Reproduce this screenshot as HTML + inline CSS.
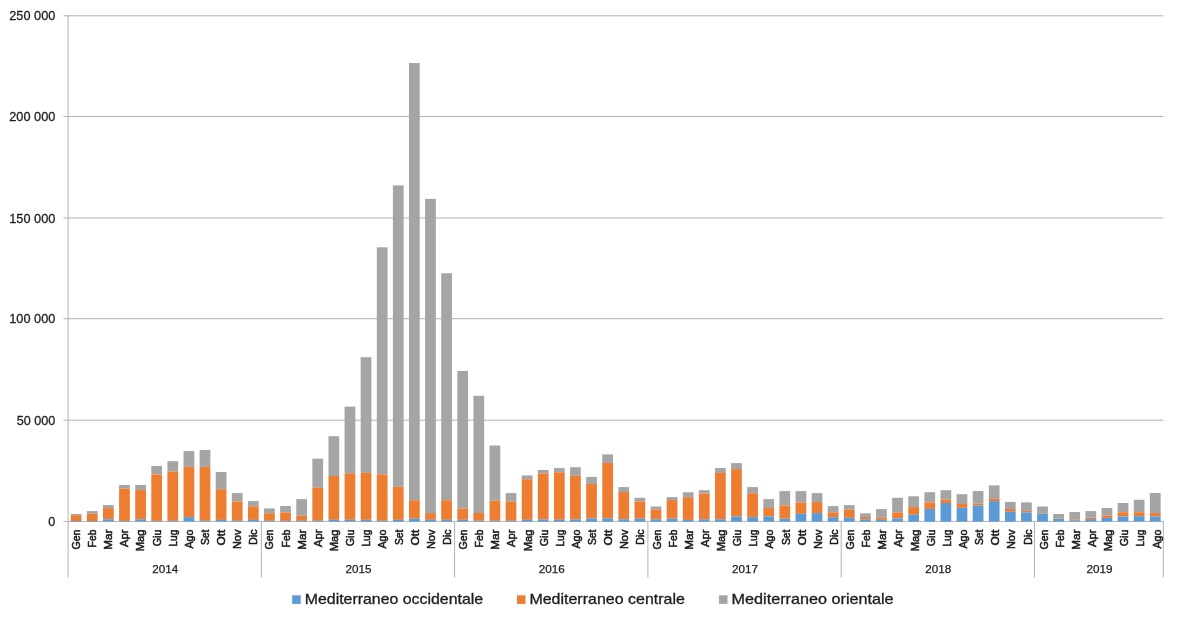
<!DOCTYPE html>
<html lang="it"><head><meta charset="utf-8"><title>Mediterraneo</title>
<style>html,body{margin:0;padding:0;background:#fff}svg{display:block}text{font-family:"Liberation Sans",sans-serif;fill:#1c1c1c;stroke:#1c1c1c}</style></head><body>
<svg width="1179" height="622" viewBox="0 0 1179 622">
<rect width="1179" height="622" fill="#fff"/>
<g stroke="#B2B2B2" stroke-width="1" fill="none">
<line x1="63.5" y1="15.8" x2="1163.3" y2="15.8"/>
<line x1="63.5" y1="116.5" x2="1163.3" y2="116.5"/>
<line x1="63.5" y1="218.0" x2="1163.3" y2="218.0"/>
<line x1="63.5" y1="318.7" x2="1163.3" y2="318.7"/>
<line x1="63.5" y1="420.2" x2="1163.3" y2="420.2"/>
<line x1="63.5" y1="521.4" x2="1163.3" y2="521.4"/>
</g>
<g shape-rendering="auto">
<rect x="70.78" y="514.00" width="10.74" height="1.30" fill="#A5A5A5"/>
<rect x="70.78" y="515.30" width="10.74" height="5.70" fill="#ED7D31"/>
<rect x="70.78" y="521.00" width="10.74" height="0.60" fill="#5B9BD5"/>
<rect x="86.89" y="511.10" width="10.74" height="2.60" fill="#A5A5A5"/>
<rect x="86.89" y="513.70" width="10.74" height="7.30" fill="#ED7D31"/>
<rect x="86.89" y="521.00" width="10.74" height="0.60" fill="#5B9BD5"/>
<rect x="103.00" y="505.10" width="10.74" height="3.00" fill="#A5A5A5"/>
<rect x="103.00" y="508.10" width="10.74" height="11.20" fill="#ED7D31"/>
<rect x="103.00" y="519.30" width="10.74" height="2.30" fill="#5B9BD5"/>
<rect x="119.10" y="484.90" width="10.74" height="3.70" fill="#A5A5A5"/>
<rect x="119.10" y="488.60" width="10.74" height="32.30" fill="#ED7D31"/>
<rect x="119.10" y="520.90" width="10.74" height="0.70" fill="#5B9BD5"/>
<rect x="135.21" y="484.90" width="10.74" height="5.20" fill="#A5A5A5"/>
<rect x="135.21" y="490.10" width="10.74" height="29.20" fill="#ED7D31"/>
<rect x="135.21" y="519.30" width="10.74" height="2.30" fill="#5B9BD5"/>
<rect x="151.31" y="466.00" width="10.74" height="8.50" fill="#A5A5A5"/>
<rect x="151.31" y="474.50" width="10.74" height="46.40" fill="#ED7D31"/>
<rect x="151.31" y="520.90" width="10.74" height="0.70" fill="#5B9BD5"/>
<rect x="167.42" y="461.20" width="10.74" height="10.40" fill="#A5A5A5"/>
<rect x="167.42" y="471.60" width="10.74" height="49.30" fill="#ED7D31"/>
<rect x="167.42" y="520.90" width="10.74" height="0.70" fill="#5B9BD5"/>
<rect x="183.53" y="451.10" width="10.74" height="15.80" fill="#A5A5A5"/>
<rect x="183.53" y="466.90" width="10.74" height="50.30" fill="#ED7D31"/>
<rect x="183.53" y="517.20" width="10.74" height="4.40" fill="#5B9BD5"/>
<rect x="199.63" y="449.90" width="10.74" height="17.00" fill="#A5A5A5"/>
<rect x="199.63" y="466.90" width="10.74" height="53.90" fill="#ED7D31"/>
<rect x="199.63" y="520.80" width="10.74" height="0.80" fill="#5B9BD5"/>
<rect x="215.74" y="472.00" width="10.74" height="17.20" fill="#A5A5A5"/>
<rect x="215.74" y="489.20" width="10.74" height="30.70" fill="#ED7D31"/>
<rect x="215.74" y="519.90" width="10.74" height="1.70" fill="#5B9BD5"/>
<rect x="231.84" y="493.10" width="10.74" height="8.40" fill="#A5A5A5"/>
<rect x="231.84" y="501.50" width="10.74" height="19.30" fill="#ED7D31"/>
<rect x="231.84" y="520.80" width="10.74" height="0.80" fill="#5B9BD5"/>
<rect x="247.95" y="501.10" width="10.74" height="5.30" fill="#A5A5A5"/>
<rect x="247.95" y="506.40" width="10.74" height="13.50" fill="#ED7D31"/>
<rect x="247.95" y="519.90" width="10.74" height="1.70" fill="#5B9BD5"/>
<rect x="264.05" y="508.40" width="10.74" height="4.90" fill="#A5A5A5"/>
<rect x="264.05" y="513.30" width="10.74" height="7.50" fill="#ED7D31"/>
<rect x="264.05" y="520.80" width="10.74" height="0.80" fill="#5B9BD5"/>
<rect x="280.16" y="506.00" width="10.74" height="6.40" fill="#A5A5A5"/>
<rect x="280.16" y="512.40" width="10.74" height="8.50" fill="#ED7D31"/>
<rect x="280.16" y="520.90" width="10.74" height="0.70" fill="#5B9BD5"/>
<rect x="296.27" y="499.10" width="10.74" height="16.60" fill="#A5A5A5"/>
<rect x="296.27" y="515.70" width="10.74" height="5.20" fill="#ED7D31"/>
<rect x="296.27" y="520.90" width="10.74" height="0.70" fill="#5B9BD5"/>
<rect x="312.37" y="458.60" width="10.74" height="29.20" fill="#A5A5A5"/>
<rect x="312.37" y="487.80" width="10.74" height="33.00" fill="#ED7D31"/>
<rect x="312.37" y="520.80" width="10.74" height="0.80" fill="#5B9BD5"/>
<rect x="328.48" y="436.20" width="10.74" height="39.80" fill="#A5A5A5"/>
<rect x="328.48" y="476.00" width="10.74" height="43.80" fill="#ED7D31"/>
<rect x="328.48" y="519.80" width="10.74" height="1.80" fill="#5B9BD5"/>
<rect x="344.58" y="406.60" width="10.74" height="66.70" fill="#A5A5A5"/>
<rect x="344.58" y="473.30" width="10.74" height="46.50" fill="#ED7D31"/>
<rect x="344.58" y="519.80" width="10.74" height="1.80" fill="#5B9BD5"/>
<rect x="360.69" y="357.20" width="10.74" height="115.70" fill="#A5A5A5"/>
<rect x="360.69" y="472.90" width="10.74" height="46.90" fill="#ED7D31"/>
<rect x="360.69" y="519.80" width="10.74" height="1.80" fill="#5B9BD5"/>
<rect x="376.80" y="247.30" width="10.74" height="227.20" fill="#A5A5A5"/>
<rect x="376.80" y="474.50" width="10.74" height="46.30" fill="#ED7D31"/>
<rect x="376.80" y="520.80" width="10.74" height="0.80" fill="#5B9BD5"/>
<rect x="392.90" y="185.40" width="10.74" height="301.40" fill="#A5A5A5"/>
<rect x="392.90" y="486.80" width="10.74" height="33.00" fill="#ED7D31"/>
<rect x="392.90" y="519.80" width="10.74" height="1.80" fill="#5B9BD5"/>
<rect x="409.01" y="63.00" width="10.74" height="437.20" fill="#A5A5A5"/>
<rect x="409.01" y="500.20" width="10.74" height="18.50" fill="#ED7D31"/>
<rect x="409.01" y="518.70" width="10.74" height="2.90" fill="#5B9BD5"/>
<rect x="425.11" y="198.90" width="10.74" height="314.20" fill="#A5A5A5"/>
<rect x="425.11" y="513.10" width="10.74" height="6.70" fill="#ED7D31"/>
<rect x="425.11" y="519.80" width="10.74" height="1.80" fill="#5B9BD5"/>
<rect x="441.22" y="273.20" width="10.74" height="227.00" fill="#A5A5A5"/>
<rect x="441.22" y="500.20" width="10.74" height="19.60" fill="#ED7D31"/>
<rect x="441.22" y="519.80" width="10.74" height="1.80" fill="#5B9BD5"/>
<rect x="457.33" y="371.00" width="10.74" height="137.60" fill="#A5A5A5"/>
<rect x="457.33" y="508.60" width="10.74" height="11.20" fill="#ED7D31"/>
<rect x="457.33" y="519.80" width="10.74" height="1.80" fill="#5B9BD5"/>
<rect x="473.43" y="395.80" width="10.74" height="117.20" fill="#A5A5A5"/>
<rect x="473.43" y="513.00" width="10.74" height="7.80" fill="#ED7D31"/>
<rect x="473.43" y="520.80" width="10.74" height="0.80" fill="#5B9BD5"/>
<rect x="489.54" y="445.50" width="10.74" height="55.20" fill="#A5A5A5"/>
<rect x="489.54" y="500.70" width="10.74" height="20.10" fill="#ED7D31"/>
<rect x="489.54" y="520.80" width="10.74" height="0.80" fill="#5B9BD5"/>
<rect x="505.64" y="493.10" width="10.74" height="8.30" fill="#A5A5A5"/>
<rect x="505.64" y="501.40" width="10.74" height="19.40" fill="#ED7D31"/>
<rect x="505.64" y="520.80" width="10.74" height="0.80" fill="#5B9BD5"/>
<rect x="521.75" y="475.40" width="10.74" height="3.80" fill="#A5A5A5"/>
<rect x="521.75" y="479.20" width="10.74" height="40.60" fill="#ED7D31"/>
<rect x="521.75" y="519.80" width="10.74" height="1.80" fill="#5B9BD5"/>
<rect x="537.85" y="470.00" width="10.74" height="3.50" fill="#A5A5A5"/>
<rect x="537.85" y="473.50" width="10.74" height="45.90" fill="#ED7D31"/>
<rect x="537.85" y="519.40" width="10.74" height="2.20" fill="#5B9BD5"/>
<rect x="553.96" y="468.10" width="10.74" height="4.20" fill="#A5A5A5"/>
<rect x="553.96" y="472.30" width="10.74" height="47.50" fill="#ED7D31"/>
<rect x="553.96" y="519.80" width="10.74" height="1.80" fill="#5B9BD5"/>
<rect x="570.07" y="467.20" width="10.74" height="8.60" fill="#A5A5A5"/>
<rect x="570.07" y="475.80" width="10.74" height="43.60" fill="#ED7D31"/>
<rect x="570.07" y="519.40" width="10.74" height="2.20" fill="#5B9BD5"/>
<rect x="586.17" y="476.90" width="10.74" height="7.00" fill="#A5A5A5"/>
<rect x="586.17" y="483.90" width="10.74" height="34.50" fill="#ED7D31"/>
<rect x="586.17" y="518.40" width="10.74" height="3.20" fill="#5B9BD5"/>
<rect x="602.28" y="454.40" width="10.74" height="8.50" fill="#A5A5A5"/>
<rect x="602.28" y="462.90" width="10.74" height="55.50" fill="#ED7D31"/>
<rect x="602.28" y="518.40" width="10.74" height="3.20" fill="#5B9BD5"/>
<rect x="618.38" y="487.10" width="10.74" height="5.00" fill="#A5A5A5"/>
<rect x="618.38" y="492.10" width="10.74" height="27.20" fill="#ED7D31"/>
<rect x="618.38" y="519.30" width="10.74" height="2.30" fill="#5B9BD5"/>
<rect x="634.49" y="497.80" width="10.74" height="3.60" fill="#A5A5A5"/>
<rect x="634.49" y="501.40" width="10.74" height="17.30" fill="#ED7D31"/>
<rect x="634.49" y="518.70" width="10.74" height="2.90" fill="#5B9BD5"/>
<rect x="650.60" y="506.50" width="10.74" height="3.10" fill="#A5A5A5"/>
<rect x="650.60" y="509.60" width="10.74" height="9.70" fill="#ED7D31"/>
<rect x="650.60" y="519.30" width="10.74" height="2.30" fill="#5B9BD5"/>
<rect x="666.70" y="497.10" width="10.74" height="3.00" fill="#A5A5A5"/>
<rect x="666.70" y="500.10" width="10.74" height="18.60" fill="#ED7D31"/>
<rect x="666.70" y="518.70" width="10.74" height="2.90" fill="#5B9BD5"/>
<rect x="682.81" y="492.30" width="10.74" height="5.00" fill="#A5A5A5"/>
<rect x="682.81" y="497.30" width="10.74" height="22.60" fill="#ED7D31"/>
<rect x="682.81" y="519.90" width="10.74" height="1.70" fill="#5B9BD5"/>
<rect x="698.91" y="490.20" width="10.74" height="3.40" fill="#A5A5A5"/>
<rect x="698.91" y="493.60" width="10.74" height="25.70" fill="#ED7D31"/>
<rect x="698.91" y="519.30" width="10.74" height="2.30" fill="#5B9BD5"/>
<rect x="715.02" y="468.10" width="10.74" height="4.80" fill="#A5A5A5"/>
<rect x="715.02" y="472.90" width="10.74" height="46.40" fill="#ED7D31"/>
<rect x="715.02" y="519.30" width="10.74" height="2.30" fill="#5B9BD5"/>
<rect x="731.13" y="463.10" width="10.74" height="6.00" fill="#A5A5A5"/>
<rect x="731.13" y="469.10" width="10.74" height="47.40" fill="#ED7D31"/>
<rect x="731.13" y="516.50" width="10.74" height="5.10" fill="#5B9BD5"/>
<rect x="747.23" y="487.10" width="10.74" height="6.20" fill="#A5A5A5"/>
<rect x="747.23" y="493.30" width="10.74" height="23.90" fill="#ED7D31"/>
<rect x="747.23" y="517.20" width="10.74" height="4.40" fill="#5B9BD5"/>
<rect x="763.34" y="499.10" width="10.74" height="9.00" fill="#A5A5A5"/>
<rect x="763.34" y="508.10" width="10.74" height="8.40" fill="#ED7D31"/>
<rect x="763.34" y="516.50" width="10.74" height="5.10" fill="#5B9BD5"/>
<rect x="779.44" y="491.10" width="10.74" height="14.40" fill="#A5A5A5"/>
<rect x="779.44" y="505.50" width="10.74" height="13.20" fill="#ED7D31"/>
<rect x="779.44" y="518.70" width="10.74" height="2.90" fill="#5B9BD5"/>
<rect x="795.55" y="491.10" width="10.74" height="11.30" fill="#A5A5A5"/>
<rect x="795.55" y="502.40" width="10.74" height="11.40" fill="#ED7D31"/>
<rect x="795.55" y="513.80" width="10.74" height="7.80" fill="#5B9BD5"/>
<rect x="811.65" y="493.10" width="10.74" height="9.00" fill="#A5A5A5"/>
<rect x="811.65" y="502.10" width="10.74" height="11.00" fill="#ED7D31"/>
<rect x="811.65" y="513.10" width="10.74" height="8.50" fill="#5B9BD5"/>
<rect x="827.76" y="506.10" width="10.74" height="6.20" fill="#A5A5A5"/>
<rect x="827.76" y="512.30" width="10.74" height="4.90" fill="#ED7D31"/>
<rect x="827.76" y="517.20" width="10.74" height="4.40" fill="#5B9BD5"/>
<rect x="843.87" y="505.10" width="10.74" height="4.50" fill="#A5A5A5"/>
<rect x="843.87" y="509.60" width="10.74" height="8.20" fill="#ED7D31"/>
<rect x="843.87" y="517.80" width="10.74" height="3.80" fill="#5B9BD5"/>
<rect x="859.97" y="513.30" width="10.74" height="3.70" fill="#A5A5A5"/>
<rect x="859.97" y="517.00" width="10.74" height="2.30" fill="#ED7D31"/>
<rect x="859.97" y="519.30" width="10.74" height="2.30" fill="#5B9BD5"/>
<rect x="876.08" y="509.10" width="10.74" height="8.70" fill="#A5A5A5"/>
<rect x="876.08" y="517.80" width="10.74" height="2.10" fill="#ED7D31"/>
<rect x="876.08" y="519.90" width="10.74" height="1.70" fill="#5B9BD5"/>
<rect x="892.18" y="497.80" width="10.74" height="14.60" fill="#A5A5A5"/>
<rect x="892.18" y="512.40" width="10.74" height="6.00" fill="#ED7D31"/>
<rect x="892.18" y="518.40" width="10.74" height="3.20" fill="#5B9BD5"/>
<rect x="908.29" y="496.30" width="10.74" height="10.80" fill="#A5A5A5"/>
<rect x="908.29" y="507.10" width="10.74" height="7.60" fill="#ED7D31"/>
<rect x="908.29" y="514.70" width="10.74" height="6.90" fill="#5B9BD5"/>
<rect x="924.40" y="492.20" width="10.74" height="10.20" fill="#A5A5A5"/>
<rect x="924.40" y="502.40" width="10.74" height="6.50" fill="#ED7D31"/>
<rect x="924.40" y="508.90" width="10.74" height="12.70" fill="#5B9BD5"/>
<rect x="940.50" y="490.20" width="10.74" height="9.30" fill="#A5A5A5"/>
<rect x="940.50" y="499.50" width="10.74" height="3.50" fill="#ED7D31"/>
<rect x="940.50" y="503.00" width="10.74" height="18.60" fill="#5B9BD5"/>
<rect x="956.61" y="494.20" width="10.74" height="9.70" fill="#A5A5A5"/>
<rect x="956.61" y="503.90" width="10.74" height="3.90" fill="#ED7D31"/>
<rect x="956.61" y="507.80" width="10.74" height="13.80" fill="#5B9BD5"/>
<rect x="972.71" y="491.10" width="10.74" height="12.60" fill="#A5A5A5"/>
<rect x="972.71" y="503.70" width="10.74" height="1.80" fill="#ED7D31"/>
<rect x="972.71" y="505.50" width="10.74" height="16.10" fill="#5B9BD5"/>
<rect x="988.82" y="485.40" width="10.74" height="13.40" fill="#A5A5A5"/>
<rect x="988.82" y="498.80" width="10.74" height="2.30" fill="#ED7D31"/>
<rect x="988.82" y="501.10" width="10.74" height="20.50" fill="#5B9BD5"/>
<rect x="1004.93" y="501.90" width="10.74" height="7.10" fill="#A5A5A5"/>
<rect x="1004.93" y="509.00" width="10.74" height="2.80" fill="#ED7D31"/>
<rect x="1004.93" y="511.80" width="10.74" height="9.80" fill="#5B9BD5"/>
<rect x="1021.03" y="502.40" width="10.74" height="8.50" fill="#A5A5A5"/>
<rect x="1021.03" y="510.90" width="10.74" height="1.50" fill="#ED7D31"/>
<rect x="1021.03" y="512.40" width="10.74" height="9.20" fill="#5B9BD5"/>
<rect x="1037.14" y="506.50" width="10.74" height="6.50" fill="#A5A5A5"/>
<rect x="1037.14" y="513.00" width="10.74" height="0.60" fill="#ED7D31"/>
<rect x="1037.14" y="513.60" width="10.74" height="8.00" fill="#5B9BD5"/>
<rect x="1053.24" y="514.00" width="10.74" height="4.70" fill="#A5A5A5"/>
<rect x="1053.24" y="518.70" width="10.74" height="0.30" fill="#ED7D31"/>
<rect x="1053.24" y="519.00" width="10.74" height="2.60" fill="#5B9BD5"/>
<rect x="1069.35" y="512.00" width="10.74" height="7.40" fill="#A5A5A5"/>
<rect x="1069.35" y="519.40" width="10.74" height="0.90" fill="#ED7D31"/>
<rect x="1069.35" y="520.30" width="10.74" height="1.30" fill="#5B9BD5"/>
<rect x="1085.45" y="511.10" width="10.74" height="6.40" fill="#A5A5A5"/>
<rect x="1085.45" y="517.50" width="10.74" height="1.60" fill="#ED7D31"/>
<rect x="1085.45" y="519.10" width="10.74" height="2.50" fill="#5B9BD5"/>
<rect x="1101.56" y="508.00" width="10.74" height="7.40" fill="#A5A5A5"/>
<rect x="1101.56" y="515.40" width="10.74" height="2.50" fill="#ED7D31"/>
<rect x="1101.56" y="517.90" width="10.74" height="3.70" fill="#5B9BD5"/>
<rect x="1117.67" y="503.00" width="10.74" height="9.20" fill="#A5A5A5"/>
<rect x="1117.67" y="512.20" width="10.74" height="4.30" fill="#ED7D31"/>
<rect x="1117.67" y="516.50" width="10.74" height="5.10" fill="#5B9BD5"/>
<rect x="1133.77" y="499.80" width="10.74" height="12.40" fill="#A5A5A5"/>
<rect x="1133.77" y="512.20" width="10.74" height="4.00" fill="#ED7D31"/>
<rect x="1133.77" y="516.20" width="10.74" height="5.40" fill="#5B9BD5"/>
<rect x="1149.88" y="493.00" width="10.74" height="20.00" fill="#A5A5A5"/>
<rect x="1149.88" y="513.00" width="10.74" height="3.50" fill="#ED7D31"/>
<rect x="1149.88" y="516.50" width="10.74" height="5.10" fill="#5B9BD5"/>
</g>
<g stroke="#B2B2B2" stroke-width="1" fill="none">
<line x1="68.1" y1="15.3" x2="68.1" y2="577.5"/>
<line x1="261.4" y1="521.3" x2="261.4" y2="577.5"/>
<line x1="454.6" y1="521.3" x2="454.6" y2="577.5"/>
<line x1="647.9" y1="521.3" x2="647.9" y2="577.5"/>
<line x1="841.2" y1="521.3" x2="841.2" y2="577.5"/>
<line x1="1034.5" y1="521.3" x2="1034.5" y2="577.5"/>
<line x1="1163.3" y1="521.3" x2="1163.3" y2="577.5"/>
</g>
<g font-size="13.5" text-anchor="end" stroke-width=".3">
<text x="55.3" y="20.1" textLength="46.0" lengthAdjust="spacingAndGlyphs">250 000</text>
<text x="55.3" y="121.2" textLength="46.0" lengthAdjust="spacingAndGlyphs">200 000</text>
<text x="55.3" y="222.7" textLength="46.0" lengthAdjust="spacingAndGlyphs">150 000</text>
<text x="55.3" y="323.4" textLength="46.0" lengthAdjust="spacingAndGlyphs">100 000</text>
<text x="55.3" y="424.9" textLength="38.6" lengthAdjust="spacingAndGlyphs">50 000</text>
<text x="55.3" y="525.6" textLength="7.0" lengthAdjust="spacingAndGlyphs">0</text>
</g>
<g font-size="11" text-anchor="end" stroke-width=".55">
<text transform="translate(79.95 529.6) rotate(-90)" textLength="19.9" lengthAdjust="spacingAndGlyphs">Gen</text>
<text transform="translate(96.08 529.6) rotate(-90)" textLength="17.8" lengthAdjust="spacingAndGlyphs">Feb</text>
<text transform="translate(112.21 529.6) rotate(-90)" textLength="20.2" lengthAdjust="spacingAndGlyphs">Mar</text>
<text transform="translate(128.33 529.6) rotate(-90)" textLength="17.4" lengthAdjust="spacingAndGlyphs">Apr</text>
<text transform="translate(144.46 529.6) rotate(-90)" textLength="21.7" lengthAdjust="spacingAndGlyphs">Mag</text>
<text transform="translate(160.59 529.6) rotate(-90)" textLength="16.6" lengthAdjust="spacingAndGlyphs">Giu</text>
<text transform="translate(176.72 529.6) rotate(-90)" textLength="17.0" lengthAdjust="spacingAndGlyphs">Lug</text>
<text transform="translate(192.85 529.6) rotate(-90)" textLength="18.9" lengthAdjust="spacingAndGlyphs">Ago</text>
<text transform="translate(208.97 529.6) rotate(-90)" textLength="15.5" lengthAdjust="spacingAndGlyphs">Set</text>
<text transform="translate(225.10 529.6) rotate(-90)" textLength="16.0" lengthAdjust="spacingAndGlyphs">Ott</text>
<text transform="translate(241.23 529.6) rotate(-90)" textLength="19.5" lengthAdjust="spacingAndGlyphs">Nov</text>
<text transform="translate(257.36 529.6) rotate(-90)" textLength="15.2" lengthAdjust="spacingAndGlyphs">Dic</text>
<text transform="translate(273.49 529.6) rotate(-90)" textLength="19.9" lengthAdjust="spacingAndGlyphs">Gen</text>
<text transform="translate(289.61 529.6) rotate(-90)" textLength="17.8" lengthAdjust="spacingAndGlyphs">Feb</text>
<text transform="translate(305.74 529.6) rotate(-90)" textLength="20.2" lengthAdjust="spacingAndGlyphs">Mar</text>
<text transform="translate(321.87 529.6) rotate(-90)" textLength="17.4" lengthAdjust="spacingAndGlyphs">Apr</text>
<text transform="translate(338.00 529.6) rotate(-90)" textLength="21.7" lengthAdjust="spacingAndGlyphs">Mag</text>
<text transform="translate(354.13 529.6) rotate(-90)" textLength="16.6" lengthAdjust="spacingAndGlyphs">Giu</text>
<text transform="translate(370.25 529.6) rotate(-90)" textLength="17.0" lengthAdjust="spacingAndGlyphs">Lug</text>
<text transform="translate(386.38 529.6) rotate(-90)" textLength="18.9" lengthAdjust="spacingAndGlyphs">Ago</text>
<text transform="translate(402.51 529.6) rotate(-90)" textLength="15.5" lengthAdjust="spacingAndGlyphs">Set</text>
<text transform="translate(418.64 529.6) rotate(-90)" textLength="16.0" lengthAdjust="spacingAndGlyphs">Ott</text>
<text transform="translate(434.77 529.6) rotate(-90)" textLength="19.5" lengthAdjust="spacingAndGlyphs">Nov</text>
<text transform="translate(450.89 529.6) rotate(-90)" textLength="15.2" lengthAdjust="spacingAndGlyphs">Dic</text>
<text transform="translate(467.02 529.6) rotate(-90)" textLength="19.9" lengthAdjust="spacingAndGlyphs">Gen</text>
<text transform="translate(483.15 529.6) rotate(-90)" textLength="17.8" lengthAdjust="spacingAndGlyphs">Feb</text>
<text transform="translate(499.28 529.6) rotate(-90)" textLength="20.2" lengthAdjust="spacingAndGlyphs">Mar</text>
<text transform="translate(515.41 529.6) rotate(-90)" textLength="17.4" lengthAdjust="spacingAndGlyphs">Apr</text>
<text transform="translate(531.53 529.6) rotate(-90)" textLength="21.7" lengthAdjust="spacingAndGlyphs">Mag</text>
<text transform="translate(547.66 529.6) rotate(-90)" textLength="16.6" lengthAdjust="spacingAndGlyphs">Giu</text>
<text transform="translate(563.79 529.6) rotate(-90)" textLength="17.0" lengthAdjust="spacingAndGlyphs">Lug</text>
<text transform="translate(579.92 529.6) rotate(-90)" textLength="18.9" lengthAdjust="spacingAndGlyphs">Ago</text>
<text transform="translate(596.05 529.6) rotate(-90)" textLength="15.5" lengthAdjust="spacingAndGlyphs">Set</text>
<text transform="translate(612.17 529.6) rotate(-90)" textLength="16.0" lengthAdjust="spacingAndGlyphs">Ott</text>
<text transform="translate(628.30 529.6) rotate(-90)" textLength="19.5" lengthAdjust="spacingAndGlyphs">Nov</text>
<text transform="translate(644.43 529.6) rotate(-90)" textLength="15.2" lengthAdjust="spacingAndGlyphs">Dic</text>
<text transform="translate(660.56 529.6) rotate(-90)" textLength="19.9" lengthAdjust="spacingAndGlyphs">Gen</text>
<text transform="translate(676.69 529.6) rotate(-90)" textLength="17.8" lengthAdjust="spacingAndGlyphs">Feb</text>
<text transform="translate(692.81 529.6) rotate(-90)" textLength="20.2" lengthAdjust="spacingAndGlyphs">Mar</text>
<text transform="translate(708.94 529.6) rotate(-90)" textLength="17.4" lengthAdjust="spacingAndGlyphs">Apr</text>
<text transform="translate(725.07 529.6) rotate(-90)" textLength="21.7" lengthAdjust="spacingAndGlyphs">Mag</text>
<text transform="translate(741.20 529.6) rotate(-90)" textLength="16.6" lengthAdjust="spacingAndGlyphs">Giu</text>
<text transform="translate(757.33 529.6) rotate(-90)" textLength="17.0" lengthAdjust="spacingAndGlyphs">Lug</text>
<text transform="translate(773.45 529.6) rotate(-90)" textLength="18.9" lengthAdjust="spacingAndGlyphs">Ago</text>
<text transform="translate(789.58 529.6) rotate(-90)" textLength="15.5" lengthAdjust="spacingAndGlyphs">Set</text>
<text transform="translate(805.71 529.6) rotate(-90)" textLength="16.0" lengthAdjust="spacingAndGlyphs">Ott</text>
<text transform="translate(821.84 529.6) rotate(-90)" textLength="19.5" lengthAdjust="spacingAndGlyphs">Nov</text>
<text transform="translate(837.97 529.6) rotate(-90)" textLength="15.2" lengthAdjust="spacingAndGlyphs">Dic</text>
<text transform="translate(854.09 529.6) rotate(-90)" textLength="19.9" lengthAdjust="spacingAndGlyphs">Gen</text>
<text transform="translate(870.22 529.6) rotate(-90)" textLength="17.8" lengthAdjust="spacingAndGlyphs">Feb</text>
<text transform="translate(886.35 529.6) rotate(-90)" textLength="20.2" lengthAdjust="spacingAndGlyphs">Mar</text>
<text transform="translate(902.48 529.6) rotate(-90)" textLength="17.4" lengthAdjust="spacingAndGlyphs">Apr</text>
<text transform="translate(918.61 529.6) rotate(-90)" textLength="21.7" lengthAdjust="spacingAndGlyphs">Mag</text>
<text transform="translate(934.73 529.6) rotate(-90)" textLength="16.6" lengthAdjust="spacingAndGlyphs">Giu</text>
<text transform="translate(950.86 529.6) rotate(-90)" textLength="17.0" lengthAdjust="spacingAndGlyphs">Lug</text>
<text transform="translate(966.99 529.6) rotate(-90)" textLength="18.9" lengthAdjust="spacingAndGlyphs">Ago</text>
<text transform="translate(983.12 529.6) rotate(-90)" textLength="15.5" lengthAdjust="spacingAndGlyphs">Set</text>
<text transform="translate(999.25 529.6) rotate(-90)" textLength="16.0" lengthAdjust="spacingAndGlyphs">Ott</text>
<text transform="translate(1015.37 529.6) rotate(-90)" textLength="19.5" lengthAdjust="spacingAndGlyphs">Nov</text>
<text transform="translate(1031.50 529.6) rotate(-90)" textLength="15.2" lengthAdjust="spacingAndGlyphs">Dic</text>
<text transform="translate(1047.63 529.6) rotate(-90)" textLength="19.9" lengthAdjust="spacingAndGlyphs">Gen</text>
<text transform="translate(1063.76 529.6) rotate(-90)" textLength="17.8" lengthAdjust="spacingAndGlyphs">Feb</text>
<text transform="translate(1079.89 529.6) rotate(-90)" textLength="20.2" lengthAdjust="spacingAndGlyphs">Mar</text>
<text transform="translate(1096.01 529.6) rotate(-90)" textLength="17.4" lengthAdjust="spacingAndGlyphs">Apr</text>
<text transform="translate(1112.14 529.6) rotate(-90)" textLength="21.7" lengthAdjust="spacingAndGlyphs">Mag</text>
<text transform="translate(1128.27 529.6) rotate(-90)" textLength="16.6" lengthAdjust="spacingAndGlyphs">Giu</text>
<text transform="translate(1144.40 529.6) rotate(-90)" textLength="17.0" lengthAdjust="spacingAndGlyphs">Lug</text>
<text transform="translate(1160.53 529.6) rotate(-90)" textLength="18.9" lengthAdjust="spacingAndGlyphs">Ago</text>
</g>
<g font-size="11" text-anchor="middle" stroke-width=".25">
<text x="165.2" y="573.1" textLength="26.0" lengthAdjust="spacingAndGlyphs">2014</text>
<text x="358.5" y="573.1" textLength="26.0" lengthAdjust="spacingAndGlyphs">2015</text>
<text x="551.8" y="573.1" textLength="26.0" lengthAdjust="spacingAndGlyphs">2016</text>
<text x="745.0" y="573.1" textLength="26.0" lengthAdjust="spacingAndGlyphs">2017</text>
<text x="938.3" y="573.1" textLength="26.0" lengthAdjust="spacingAndGlyphs">2018</text>
<text x="1099.4" y="573.1" textLength="26.0" lengthAdjust="spacingAndGlyphs">2019</text>
</g>
<g font-size="14.3" stroke-width=".3">
<rect x="292.2" y="595.3" width="8.5" height="8.6" fill="#5B9BD5"/>
<text x="304.8" y="604.1" textLength="178.3" lengthAdjust="spacingAndGlyphs">Mediterraneo occidentale</text>
<rect x="517.0" y="595.3" width="8.5" height="8.6" fill="#ED7D31"/>
<text x="529.4" y="604.1" textLength="155.5" lengthAdjust="spacingAndGlyphs">Mediterraneo centrale</text>
<rect x="719.0" y="595.3" width="8.5" height="8.6" fill="#A5A5A5"/>
<text x="731.6" y="604.1" textLength="162.0" lengthAdjust="spacingAndGlyphs">Mediterraneo orientale</text>
</g>
</svg></body></html>
